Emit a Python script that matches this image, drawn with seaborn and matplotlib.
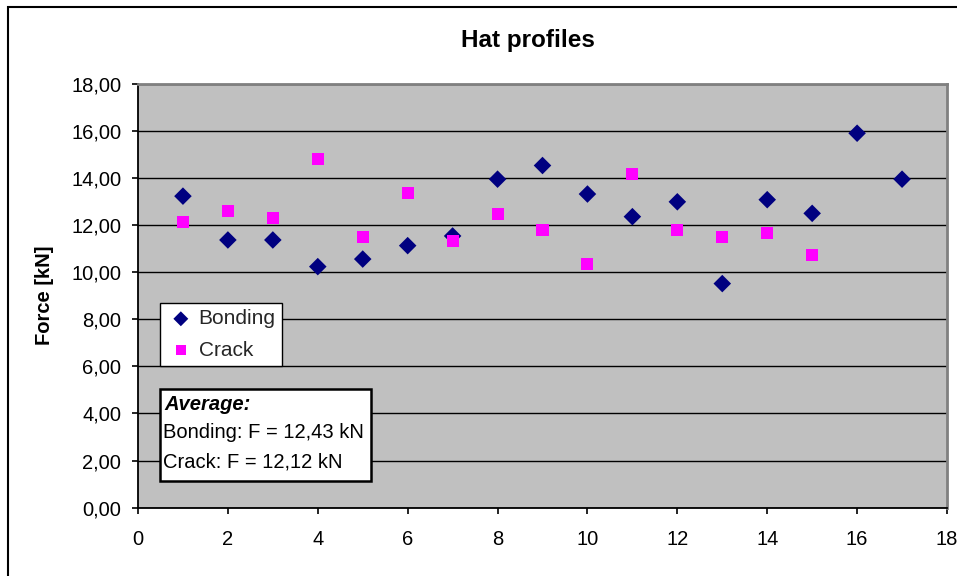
import matplotlib
matplotlib.use("Agg")
import matplotlib.pyplot as plt
import seaborn as sns
import pandas as pd
from matplotlib.ticker import FuncFormatter, MultipleLocator
from matplotlib.patches import Rectangle

bonding_x = list(range(1, 18))
bonding_y = [13.22, 11.36, 11.36, 10.23, 10.55, 11.12, 11.53, 13.94, 14.52, 13.31,
             12.35, 12.98, 9.51, 13.07, 12.49, 15.89, 13.94]
crack_x = list(range(1, 16))
crack_y = [12.12, 12.61, 12.29, 14.80, 11.48, 13.35, 11.31, 12.45, 11.80, 10.34,
           14.14, 11.80, 11.48, 11.64, 10.74]
title = "Hat profiles"
ylabel = "Force [kN]"
avg_lines = ["Bonding: F = 12,43 kN", "Crack: F = 12,12 kN"]

sns.set_theme(style="white")
plt.rcParams['font.family'] = ['Liberation Sans', 'DejaVu Sans']

W, H = 957, 576
fig = plt.figure(figsize=(W / 100, H / 100), dpi=100)
ax = fig.add_axes([138 / W, 1 - 507.7 / H, (947 - 138) / W, (507.7 - 83.5) / H])
ax.set_facecolor("#C0C0C0")

df_b = pd.DataFrame({"x": bonding_x, "y": bonding_y})
df_c = pd.DataFrame({"x": crack_x, "y": crack_y})
sns.scatterplot(data=df_b, x="x", y="y", marker="D", s=80, color="#000080",
                edgecolor="none", ax=ax, label="Bonding", zorder=3)
sns.scatterplot(data=df_c, x="x", y="y", marker="s", s=75, color="#FF00FF",
                edgecolor="none", ax=ax, label="Crack", zorder=3)

ax.set_xlim(0, 18)
ax.set_ylim(0, 18)
ax.xaxis.set_major_locator(MultipleLocator(2))
ax.yaxis.set_major_locator(MultipleLocator(2))
ax.yaxis.set_major_formatter(FuncFormatter(lambda v, p: f"{v:.2f}".replace(".", ",")))
ax.xaxis.set_major_formatter(FuncFormatter(lambda v, p: f"{int(v)}"))
ax.grid(axis="y", color="black", linewidth=1.0)
ax.grid(axis="x", visible=False)
ax.set_axisbelow(True)

for s in ["left", "bottom"]:
    ax.spines[s].set_color("black")
    ax.spines[s].set_linewidth(1.3)
for s in ["top", "right"]:
    ax.spines[s].set_color("#808080")
    ax.spines[s].set_linewidth(2.0)

ax.tick_params(axis="both", direction="out", length=4, width=1.2, color="black",
               labelsize=14.5, labelcolor="black", left=True, bottom=True)
ax.tick_params(axis="x", pad=12)
ax.tick_params(axis="y", pad=8)

ax.set_xlabel("")
ax.set_ylabel(ylabel, fontsize=14.5, fontweight="bold", color="black")
ax.yaxis.set_label_coords((54 - 138) / (947 - 138), 0.5)

fig.text(528 / W, 1 - 40 / H, title, ha="center", va="center",
         fontsize=17.5, fontweight="bold", color="black")

leg = ax.legend(loc="upper left",
                bbox_to_anchor=(160 / W, 1 - 303 / H), bbox_transform=fig.transFigure,
                frameon=True, fancybox=False, fontsize=15, handletextpad=0.15,
                borderpad=0.3, labelspacing=0.6, handlelength=1.4, borderaxespad=0,
                markerscale=0.85)
leg.get_frame().set_edgecolor("black")
leg.get_frame().set_linewidth(1.0)
leg.get_frame().set_facecolor("white")
leg.get_frame().set_alpha(1)

# average box
fig.patches.append(Rectangle((159.5 / W, 1 - 480.5 / H), (371 - 159.5) / W, (480.5 - 388.5) / H,
                             transform=fig.transFigure, facecolor="white", edgecolor="black",
                             linewidth=1.8, zorder=5))
fig.text(164 / W, 1 - 405 / H, "Average:", ha="left", va="center", fontsize=14.5,
         fontweight="bold", style="italic", color="black", zorder=6)
fig.text(163 / W, 1 - 433 / H, avg_lines[0], ha="left", va="center", fontsize=14.5,
         color="black", zorder=6)
fig.text(163 / W, 1 - 462 / H, avg_lines[1], ha="left", va="center", fontsize=14.5,
         color="black", zorder=6)

# outer chart border
fig.patches.append(Rectangle((8 / W, -0.1), 1.2, 1 - 7 / H + 0.1, transform=fig.transFigure,
                             facecolor="none", edgecolor="black", linewidth=1.5, zorder=0))

fig.savefig("out.png", dpi=100)
